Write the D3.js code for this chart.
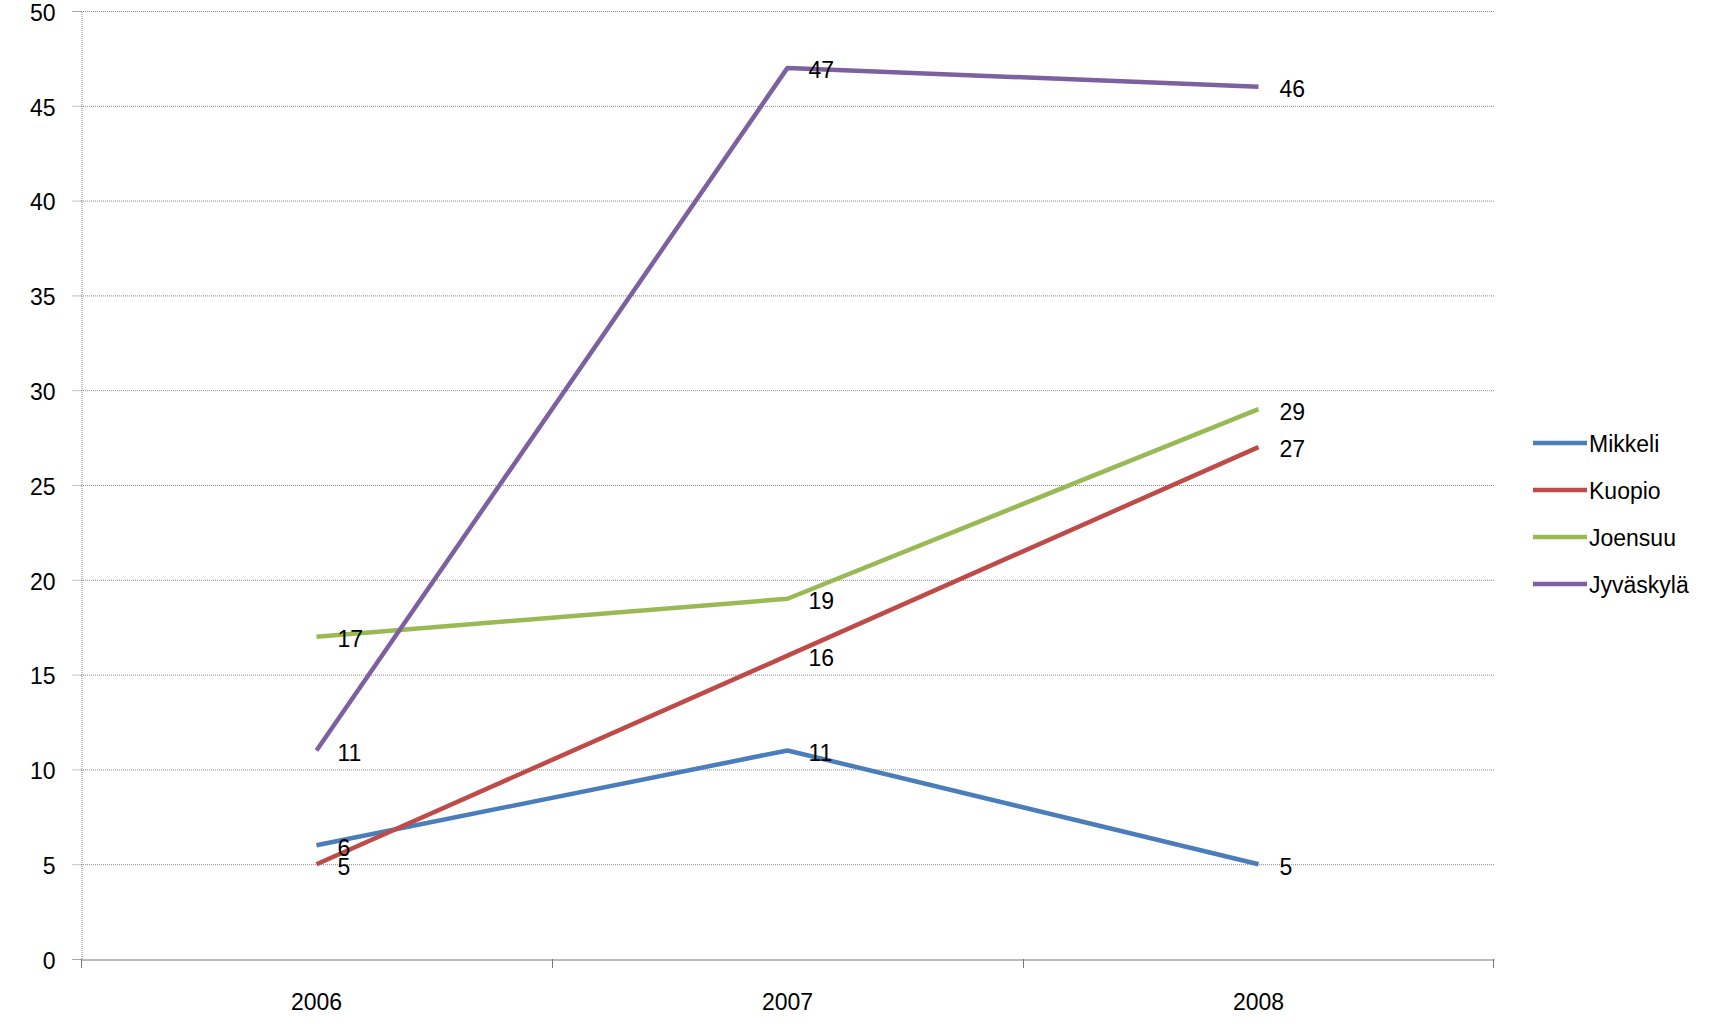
<!DOCTYPE html>
<html><head><meta charset="utf-8">
<script src="https://cdn.jsdelivr.net/npm/d3@7"></script>
<style>body{margin:0;background:#fff}svg{display:block}</style>
</head><body>
<script>
const categories = ["2006", "2007", "2008"];
const seriesNames = ["Mikkeli", "Kuopio", "Joensuu", "Jyväskylä"];
const mikkeli = [6, 11, 5];
const kuopio = [5, 16, 27];
const joensuu = [17, 19, 29];
const jyvaskyla = [11, 47, 46];
const yTicks = [0, 5, 10, 15, 20, 25, 30, 35, 40, 45, 50];
const colors = ["#4A7EBB", "#BE4B48", "#98B954", "#7D60A0"];

const seriesValues = [mikkeli, kuopio, joensuu, jyvaskyla];
const W = 1714, H = 1026;
const mLeft = 81, mRight = 1494, mTop = 11, mBottom = 959;
const font = "'Liberation Sans', Arial, sans-serif";
const fs = 23;

const svg = d3.select("body").append("svg").attr("width", W).attr("height", H);
const x = d3.scaleBand().domain(categories).range([mLeft, mRight]);
const y = d3.scaleLinear().domain([0, 50]).range([mBottom, mTop]);
const cx = d => x(d) + x.bandwidth() / 2;

// gridlines
svg.append("g").selectAll("line").data(yTicks.filter(t => t > 0)).join("line")
  .attr("x1", mLeft).attr("x2", mRight)
  .attr("y1", d => y(d) + 0.5).attr("y2", d => y(d) + 0.5)
  .attr("stroke", "#888").attr("stroke-dasharray", "1,1");

// y axis
const yAxis = svg.append("g").attr("transform", `translate(${mLeft + 0.5},0)`)
  .call(d3.axisLeft(y).tickValues(yTicks).tickSize(9).tickPadding(17));
yAxis.select(".domain").attr("stroke", "#888").attr("stroke-dasharray", "1,1");
yAxis.selectAll(".tick line").attr("stroke", "#888").attr("stroke-dasharray", "1,1");
yAxis.selectAll("text").attr("font-family", font).attr("font-size", fs).attr("fill", "#000")
  .attr("dy", "0.4em");

// x axis
const xAxis = svg.append("g").attr("transform", `translate(0,${mBottom + 0.5})`)
  .call(d3.axisBottom(x).tickSize(0).tickPadding(34));
xAxis.select(".domain").attr("stroke", "#777");
xAxis.selectAll("text").attr("font-family", font).attr("font-size", fs).attr("fill", "#000");
const bounds = categories.map(c => x(c)).concat([mRight - 1]);
svg.append("g").selectAll("line").data(bounds).join("line")
  .attr("x1", d => d + 0.5).attr("x2", d => d + 0.5)
  .attr("y1", mBottom).attr("y2", mBottom + 9)
  .attr("stroke", "#777");

// lines
const line = d3.line().x((d, i) => cx(categories[i])).y(d => y(d));
seriesValues.forEach((vals, si) => {
  svg.append("path").datum(vals).attr("d", line)
    .attr("fill", "none").attr("stroke", colors[si]).attr("stroke-width", 4.5)
    .attr("stroke-linejoin", "round");
});
// labels
seriesValues.forEach((vals, si) => {
  svg.append("g").selectAll("text").data(vals).join("text")
    .attr("x", (d, i) => cx(categories[i]) + 21)
    .attr("y", d => y(d))
    .attr("dy", "0.45em")
    .attr("font-family", font).attr("font-size", fs).attr("fill", "#000")
    .text(d => d);
});

// legend
const lg = svg.append("g");
seriesNames.forEach((n, i) => {
  const ly = 443 + i * 47;
  lg.append("line").attr("x1", 1533).attr("x2", 1587).attr("y1", ly).attr("y2", ly)
    .attr("stroke", colors[i]).attr("stroke-width", 4.5);
  lg.append("text").attr("x", 1589).attr("y", ly).attr("dy", "0.4em")
    .attr("font-family", font).attr("font-size", fs).attr("fill", "#000").text(n);
});
</script>
</body></html>
